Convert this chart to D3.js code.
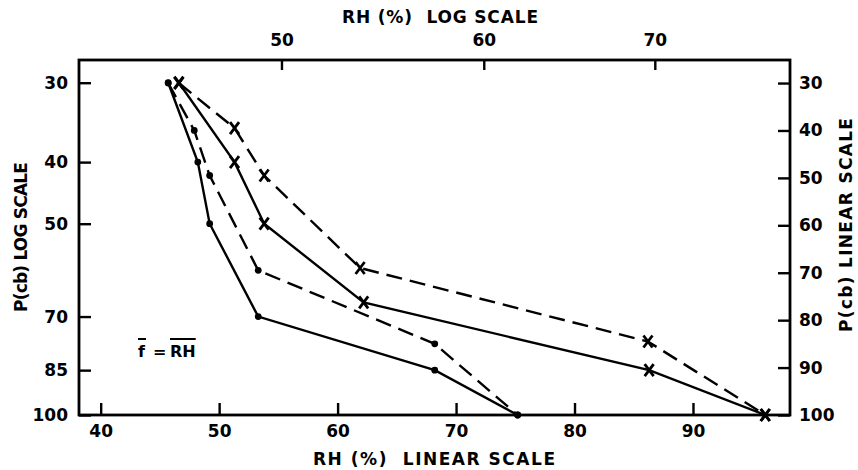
<!DOCTYPE html>
<html lang="en">
<head>
<meta charset="UTF-8">
<title>RH vs P</title>
<script src="https://cdn.jsdelivr.net/npm/d3@7"></script>
<style>
    body { margin: 0; background: #fff; }
    text { font-family: "DejaVu Sans", sans-serif; font-weight: bold; fill: #000; }
    .axis text { font-size: 17px; }
    .axis line { stroke: #000; stroke-width: 2.4; }
    .axis path.domain { display: none; }
</style>
</head>
<body>
<div id="chart"></div>
<script>
    // tick values
    const rhLinTicks = [40, 50, 60, 70, 80, 90];
    const rhLogTicks = [50, 60, 70];
    const pLogTicks = [30, 40, 50, 70, 85, 100];
    const pLinTicks = [30, 40, 50, 60, 70, 80, 90, 100];

    // dots: solid line on log P, dashed line on linear P
    const dotRH = [45.7, 48.2, 49.2, 53.3, 68.2, 75.2];
    const dotPLog = [30, 40, 50, 70, 85, 100];
    const dotRHLin = [45.7, 47.9, 49.2, 53.3, 68.2, 75.2];
    const dotPLin = [30, 40, 49.5, 69.5, 85, 100];

    // crosses: solid line on log P, dashed line on linear P
    const crossRH = [46.6, 51.3, 53.8, 62.2, 86.3, 96.1];
    const crossPLog = [30, 40, 50, 66.5, 85, 100];
    const crossRHLin = [46.6, 51.3, 53.8, 61.9, 86.2, 96.1];
    const crossPLin = [30, 39.5, 49.5, 69, 84.5, 100];

    const width = 858, height = 470;
    const margin = {top: 60, right: 68, bottom: 55, left: 79};

    const svg = d3.select("#chart").append("svg")
        .attr("width", width)
        .attr("height", height);

    // scales
    const x = d3.scaleLinear().domain([38.17, 98.19]).range([margin.left, width - margin.right]);
    const xLog = d3.scaleLog().domain([41.66, 79.07]).range([margin.left, width - margin.right]);
    const yLog = d3.scaleLog().domain([27.63, 100]).range([margin.top, height - margin.bottom]);
    const yLin = d3.scaleLinear().domain([25.14, 100]).range([margin.top, height - margin.bottom]);

    // axes, ticks pointing into the box
    svg.append("g").attr("class", "axis")
        .attr("transform", `translate(0,${height - margin.bottom})`)
        .call(d3.axisBottom(x).tickValues(rhLinTicks).tickSizeInner(-12).tickSizeOuter(0).tickPadding(10));
    svg.append("g").attr("class", "axis")
        .attr("transform", `translate(0,${margin.top})`)
        .call(d3.axisTop(xLog).tickValues(rhLogTicks).tickFormat(d3.format("d")).tickSizeInner(-10).tickSizeOuter(0).tickPadding(14));
    svg.append("g").attr("class", "axis")
        .attr("transform", `translate(${margin.left},0)`)
        .call(d3.axisLeft(yLog).tickValues(pLogTicks).tickFormat(d3.format("d")).tickSizeInner(-12).tickSizeOuter(0).tickPadding(11));
    svg.append("g").attr("class", "axis")
        .attr("transform", `translate(${width - margin.right},0)`)
        .call(d3.axisRight(yLin).tickValues(pLinTicks).tickSizeInner(-12).tickSizeOuter(0).tickPadding(9));

    // frame
    svg.append("rect")
        .attr("x", margin.left)
        .attr("y", margin.top)
        .attr("width", width - margin.left - margin.right)
        .attr("height", height - margin.top - margin.bottom)
        .attr("fill", "none")
        .attr("stroke", "#000")
        .attr("stroke-width", 2.8);

    // axis titles
    svg.append("text")
        .attr("x", 440).attr("y", 23)
        .attr("text-anchor", "middle")
        .attr("font-size", 17)
        .attr("textLength", 196).attr("lengthAdjust", "spacing")
        .style("white-space", "pre")
        .text("RH (%)  LOG SCALE");
    svg.append("text")
        .attr("x", 434).attr("y", 465)
        .attr("text-anchor", "middle")
        .attr("font-size", 17)
        .attr("textLength", 242).attr("lengthAdjust", "spacing")
        .style("white-space", "pre")
        .text("RH (%)  LINEAR SCALE");
    svg.append("text")
        .attr("transform", "translate(27,237) rotate(-90)")
        .attr("text-anchor", "middle")
        .attr("font-size", 17)
        .attr("textLength", 150).attr("lengthAdjust", "spacing")
        .text("P(cb) LOG SCALE");
    svg.append("text")
        .attr("transform", "translate(852,225) rotate(-90)")
        .attr("text-anchor", "middle")
        .attr("font-size", 17)
        .attr("textLength", 214).attr("lengthAdjust", "spacing")
        .text("P(cb) LINEAR SCALE");

    // series lines
    const series = [
        {rh: dotRH, p: dotPLog, y: yLog, dash: null, mark: "dot"},
        {rh: dotRHLin, p: dotPLin, y: yLin, dash: "16,8", mark: "dot"},
        {rh: crossRH, p: crossPLog, y: yLog, dash: null, mark: "cross"},
        {rh: crossRHLin, p: crossPLin, y: yLin, dash: "16,8", mark: "cross"}
    ];

    series.forEach(s => {
        const pts = s.rh.map((v, i) => [v, s.p[i]]);
        const line = d3.line().x(d => x(d[0])).y(d => s.y(d[1]));
        svg.append("path")
            .attr("d", line(pts))
            .attr("fill", "none")
            .attr("stroke", "#000")
            .attr("stroke-width", 2.4)
            .attr("stroke-dasharray", s.dash);

        const marks = svg.append("g").selectAll("g")
            .data(pts).enter().append("g")
            .attr("transform", d => `translate(${x(d[0])},${s.y(d[1])})`);
        if (s.mark === "dot") {
            marks.append("circle").attr("r", 3.4).attr("fill", "#000");
        } else {
            marks.append("path")
                .attr("d", "M-4.5,-6L4.5,6M4.5,-6L-4.5,6")
                .attr("stroke", "#000")
                .attr("stroke-width", 2.8)
                .attr("fill", "none");
        }
    });

    // annotation f = RH with overbars
    const note = svg.append("g").attr("font-size", 16);
    const fTxt = note.append("text").attr("x", 138).attr("y", 357).text("f");
    note.append("text").attr("x", 153).attr("y", 357).text("=");
    const rhTxt = note.append("text").attr("x", 170).attr("y", 357).text("RH");
    [fTxt, rhTxt].forEach(t => {
        const b = t.node().getBBox();
        note.append("line")
            .attr("x1", b.x).attr("x2", b.x + b.width)
            .attr("y1", 339).attr("y2", 339)
            .attr("stroke", "#000").attr("stroke-width", 2);
    });
</script>
</body>
</html>
